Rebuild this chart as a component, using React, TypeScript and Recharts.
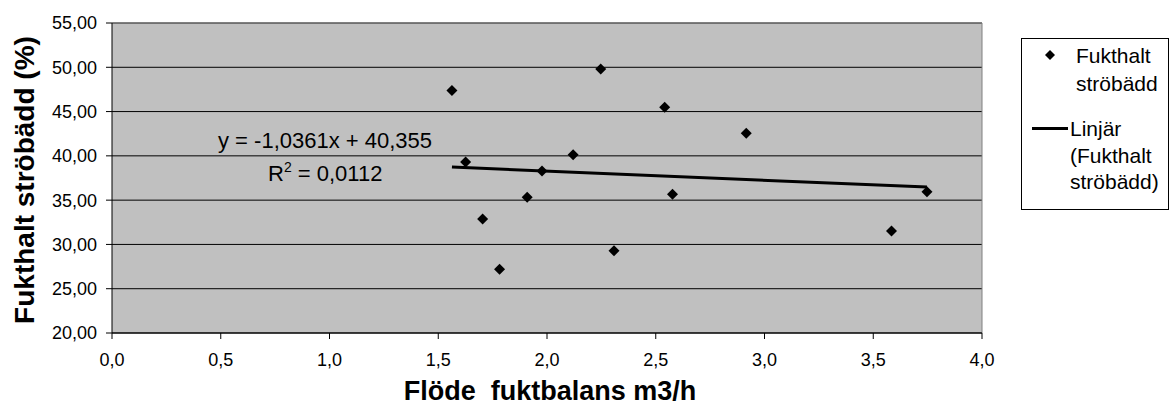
import {
  ScatterChart,
  Scatter,
  XAxis,
  YAxis,
  CartesianGrid,
  ReferenceLine,
} from "recharts";

// flow through the moisture balance (m3/h) and bedding moisture (%)
const flow = [1.563, 1.626, 1.704, 1.782, 1.909, 1.977, 2.12, 2.247, 2.308, 2.541, 2.577, 2.916, 3.584, 3.747];
const moisture = [47.38, 39.3, 32.88, 27.2, 35.32, 38.29, 40.13, 49.82, 29.28, 45.5, 35.66, 42.54, 31.53, 35.96];

const xTicks = [0, 0.5, 1, 1.5, 2, 2.5, 3, 3.5, 4];
const yTicks = [20, 25, 30, 35, 40, 45, 50, 55];

// linear trend as reported on the chart
const slope = -1.0361;
const intercept = 40.355;

const FONT = "'Liberation Sans', Arial, sans-serif";

const points = flow.map((x, i) => ({ x, y: moisture[i] }));
const trendX = [Math.min(...flow), Math.max(...flow)];
const trend = trendX.map((x) => ({ x, y: slope * x + intercept }));

const Diamond = (props: any) => {
  const { cx, cy } = props;
  const r = 5.5;
  return (
    <polygon
      points={`${cx},${cy - r} ${cx + r},${cy} ${cx},${cy + r} ${cx - r},${cy}`}
      fill="#000"
    />
  );
};

const comma = (digits: number) => (v: number) => v.toFixed(digits).replace(".", ",");

export default function App() {
  return (
    <div style={{ position: "absolute", left: 0, top: 0, width: 1170, height: 412, background: "#fff" }}>
      <ScatterChart width={1170} height={412} margin={{ top: 23, right: 188, bottom: 0, left: 0 }}>
        <CartesianGrid vertical={false} stroke="#000" fill="#c0c0c0" />
        <XAxis
          type="number"
          dataKey="x"
          domain={[0, 4]}
          ticks={xTicks}
          tickFormatter={comma(1)}
          height={79}
          tickSize={6}
          tickMargin={14}
          axisLine={{ stroke: "#000" }}
          tickLine={{ stroke: "#000" }}
          tick={{ fill: "#000", fontSize: 18, fontFamily: FONT }}
        />
        <YAxis
          type="number"
          dataKey="y"
          domain={[20, 55]}
          ticks={yTicks}
          tickFormatter={comma(2)}
          width={112}
          tickSize={6}
          tickMargin={9}
          axisLine={{ stroke: "#000" }}
          tickLine={{ stroke: "#000" }}
          tick={{ fill: "#000", fontSize: 18, fontFamily: FONT }}
        />
        <ReferenceLine y={55} stroke="#808080" />
        <ReferenceLine x={4} stroke="#808080" />
        <Scatter data={points} shape={<Diamond />} isAnimationActive={false} />
        <Scatter
          data={trend}
          line={{ stroke: "#000", strokeWidth: 3 }}
          shape={() => <g />}
          isAnimationActive={false}
        />
      </ScatterChart>

      <svg
        width={1170}
        height={412}
        style={{ position: "absolute", left: 0, top: 0, pointerEvents: "none" }}
        fontFamily={FONT}
      >
        {/* regression equation */}
        <text x={218} y={148} fontSize={22} fill="#000">
          y = -1,0361x + 40,355
        </text>
        <text x={268} y={181} fontSize={22} fill="#000">
          R<tspan dy={-9} fontSize={14}>2</tspan>
          <tspan dy={9}> = 0,0112</tspan>
        </text>

        {/* axis titles */}
        <text
          x={550}
          y={400}
          fontSize={27}
          fontWeight="bold"
          textAnchor="middle"
          fill="#000"
          style={{ whiteSpace: "pre" }}
        >
          {"Flöde  fuktbalans m3/h"}
        </text>
        <text
          transform="translate(34,180) rotate(-90)"
          fontSize={28}
          fontWeight="bold"
          textAnchor="middle"
          fill="#000"
        >
          Fukthalt ströbädd (%)
        </text>

        {/* legend */}
        <rect x={1021.5} y={38.5} width={147} height={171} fill="#fff" stroke="#000" />
        <polygon points="1050,50 1055,55 1050,60 1045,55" fill="#000" />
        <text x={1076} y={63} fontSize={21} fill="#000">Fukthalt</text>
        <text x={1076} y={91} fontSize={21} fill="#000">ströbädd</text>
        <line x1={1032} y1={128.5} x2={1068} y2={128.5} stroke="#000" strokeWidth={3} />
        <text x={1070} y={136} fontSize={21} fill="#000">Linjär</text>
        <text x={1070} y={163} fontSize={21} fill="#000">(Fukthalt</text>
        <text x={1070} y={189} fontSize={21} fill="#000">ströbädd)</text>
      </svg>
    </div>
  );
}
